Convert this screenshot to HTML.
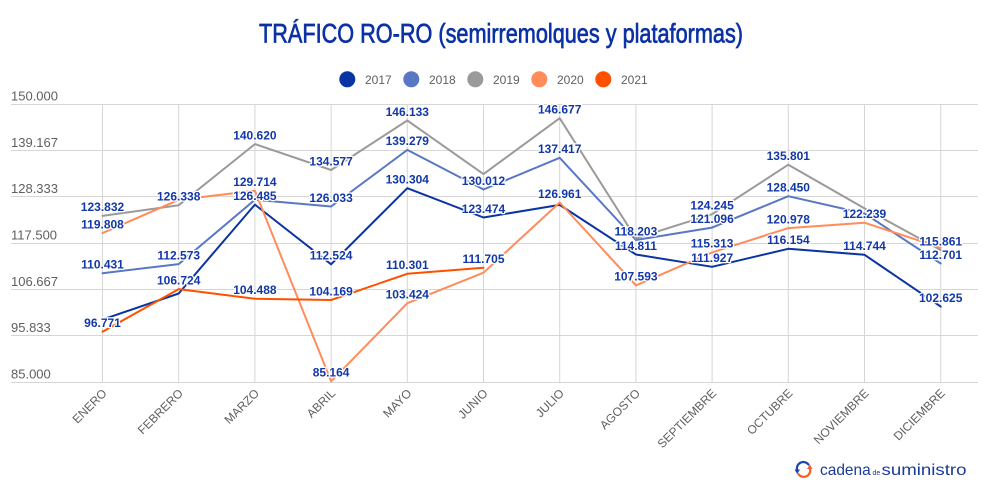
<!DOCTYPE html>
<html><head><meta charset="utf-8"><style>
html,body{margin:0;padding:0;background:#fff;}
svg{display:block;}
text{font-family:"Liberation Sans",sans-serif;}
.yl{font-size:13px;fill:#5f5f5f;}
.xl{font-size:12px;fill:#5f5f5f;}
.lg{font-size:12px;fill:#5f5f5f;}
.dl{font-size:12px;font-weight:bold;fill:#1238a8;paint-order:stroke;stroke:#fff;stroke-width:2.5px;stroke-linejoin:round;text-anchor:middle;}
.ln{fill:none;stroke-width:2;stroke-linejoin:round;stroke-linecap:round;}
</style></head><body>
<svg width="1000" height="500" viewBox="0 0 1000 500" xmlns="http://www.w3.org/2000/svg">
<rect width="1000" height="500" fill="#fff"/>
<text x="259" y="42.7" font-size="27" fill="#0b31a5" stroke="#0b31a5" stroke-width="0.7" textLength="484" lengthAdjust="spacingAndGlyphs">TRÁFICO RO-RO (semirremolques y plataformas)</text>

<!-- legend -->
<circle cx="347.3" cy="79.3" r="8" fill="#0a33a3"/><text class="lg" x="365" y="83.8">2017</text>
<circle cx="411.3" cy="79.3" r="8" fill="#5878c4"/><text class="lg" x="429" y="83.8">2018</text>
<circle cx="475.3" cy="79.3" r="8" fill="#9a9a9a"/><text class="lg" x="493" y="83.8">2019</text>
<circle cx="539.3" cy="79.3" r="8" fill="#ff8c5a"/><text class="lg" x="557" y="83.8">2020</text>
<circle cx="603.3" cy="79.3" r="8" fill="#ff5000"/><text class="lg" x="621" y="83.8">2021</text>

<!-- grid -->
<g stroke="#d6d6d6" stroke-width="1">
<line x1="11" x2="978" y1="104.5" y2="104.5"/>
<line x1="11" x2="978" y1="150.5" y2="150.5"/>
<line x1="11" x2="978" y1="196.5" y2="196.5"/>
<line x1="11" x2="978" y1="243.5" y2="243.5"/>
<line x1="11" x2="978" y1="289.5" y2="289.5"/>
<line x1="11" x2="978" y1="335.5" y2="335.5"/>
<line x1="11" x2="978" y1="382.5" y2="382.5"/>
<line x1="102.5" x2="102.5" y1="104" y2="382"/>
<line x1="178.7" x2="178.7" y1="104" y2="382"/>
<line x1="254.9" x2="254.9" y1="104" y2="382"/>
<line x1="331.1" x2="331.1" y1="104" y2="382"/>
<line x1="407.3" x2="407.3" y1="104" y2="382"/>
<line x1="483.5" x2="483.5" y1="104" y2="382"/>
<line x1="559.7" x2="559.7" y1="104" y2="382"/>
<line x1="635.9" x2="635.9" y1="104" y2="382"/>
<line x1="712.1" x2="712.1" y1="104" y2="382"/>
<line x1="788.3" x2="788.3" y1="104" y2="382"/>
<line x1="864.5" x2="864.5" y1="104" y2="382"/>
<line x1="940.7" x2="940.7" y1="104" y2="382"/>
</g>

<!-- y labels -->
<text class="yl" x="11" y="100.6">150.000</text>
<text class="yl" x="11" y="146.9">139.167</text>
<text class="yl" x="11" y="193.2">128.333</text>
<text class="yl" x="11" y="239.5">117.500</text>
<text class="yl" x="11" y="285.8">106.667</text>
<text class="yl" x="11" y="332.2">95.833</text>
<text class="yl" x="11" y="378.5">85.000</text>

<!-- x labels -->
<g class="xl" text-anchor="end">
<text transform="translate(107.5,394) rotate(-45)">ENERO</text>
<text transform="translate(183.7,394) rotate(-45)">FEBRERO</text>
<text transform="translate(259.9,394) rotate(-45)">MARZO</text>
<text transform="translate(336.1,394) rotate(-45)">ABRIL</text>
<text transform="translate(412.3,394) rotate(-45)">MAYO</text>
<text transform="translate(488.5,394) rotate(-45)">JUNIO</text>
<text transform="translate(564.7,394) rotate(-45)">JULIO</text>
<text transform="translate(640.9,394) rotate(-45)">AGOSTO</text>
<text transform="translate(717.1,394) rotate(-45)">SEPTIEMBRE</text>
<text transform="translate(793.3,394) rotate(-45)">OCTUBRE</text>
<text transform="translate(869.5,394) rotate(-45)">NOVIEMBRE</text>
<text transform="translate(945.7,394) rotate(-45)">DICIEMBRE</text>
</g>

<!-- series -->
<polyline class="ln" stroke="#0a33a3" points="102.5,319.6 178.7,293.5 254.9,204.6 331.1,264.3 407.3,188.2 483.5,217.5 559.7,204.9 635.9,254.5 712.1,266.8 788.3,248.8 864.5,254.8 940.7,306.6"/>
<polyline class="ln" stroke="#5878c4" points="102.5,273.2 178.7,264.1 254.9,199.8 331.1,206.5 407.3,149.9 483.5,189.5 559.7,157.8 635.9,240.0 712.1,227.6 788.3,196.2 864.5,213.5 940.7,263.5"/>
<polyline class="ln" stroke="#9a9a9a" points="102.5,215.9 178.7,205.2 254.9,144.1 331.1,170.0 407.3,120.5 483.5,174.1 559.7,118.2 635.9,238.3 712.1,214.2 788.3,164.7 864.5,208.4 940.7,250.0"/>
<polyline class="ln" stroke="#ff8c5a" points="102.5,233.1 178.7,199.8 254.9,190.8 331.1,381.3 407.3,303.2 483.5,272.7 559.7,202.5 635.9,285.4 712.1,252.4 788.3,228.1 864.5,222.7 940.7,247.7"/>
<polyline class="ln" stroke="#ff5000" points="102.5,331.7 178.7,289.1 254.9,298.7 331.1,300.0 407.3,273.8 483.5,267.8"/>

<!-- data labels -->
<text class="dl" x="102.5" y="211.2">123.832</text>
<text class="dl" x="102.5" y="228.4">119.808</text>
<text class="dl" x="102.5" y="268.5">110.431</text>
<text class="dl" x="102.5" y="327.0">96.771</text>

<text class="dl" x="178.7" y="200.5">126.338</text>
<text class="dl" x="178.7" y="259.4">112.573</text>
<text class="dl" x="178.7" y="284.4">106.724</text>

<text class="dl" x="254.9" y="139.4">140.620</text>
<text class="dl" x="254.9" y="186.1">129.714</text>
<text class="dl" x="254.9" y="199.9">126.485</text>
<text class="dl" x="254.9" y="294.0">104.488</text>

<text class="dl" x="331.1" y="165.3">134.577</text>
<text class="dl" x="331.1" y="201.8">126.033</text>
<text class="dl" x="331.1" y="259.6">112.524</text>
<text class="dl" x="331.1" y="295.3">104.169</text>
<text class="dl" x="331.1" y="376.6">85.164</text>

<text class="dl" x="407.3" y="115.8">146.133</text>
<text class="dl" x="407.3" y="145.2">139.279</text>
<text class="dl" x="407.3" y="183.5">130.304</text>
<text class="dl" x="407.3" y="269.1">110.301</text>
<text class="dl" x="407.3" y="298.5">103.424</text>

<text class="dl" x="483.5" y="184.8">130.012</text>
<text class="dl" x="483.5" y="212.8">123.474</text>
<text class="dl" x="483.5" y="263.1">111.705</text>

<text class="dl" x="559.7" y="113.5">146.677</text>
<text class="dl" x="559.7" y="153.1">137.417</text>
<text class="dl" x="559.7" y="197.8">126.961</text>

<text class="dl" x="635.9" y="235.3">118.203</text>
<text class="dl" x="635.9" y="249.8">114.811</text>
<text class="dl" x="635.9" y="280.7">107.593</text>

<text class="dl" x="712.1" y="209.5">124.245</text>
<text class="dl" x="712.1" y="222.9">121.096</text>
<text class="dl" x="712.1" y="247.7">115.313</text>
<text class="dl" x="712.1" y="262.1">111.927</text>

<text class="dl" x="788.3" y="160.0">135.801</text>
<text class="dl" x="788.3" y="191.5">128.450</text>
<text class="dl" x="788.3" y="223.4">120.978</text>
<text class="dl" x="788.3" y="244.1">116.154</text>

<text class="dl" x="864.5" y="218.0">122.239</text>
<text class="dl" x="864.5" y="250.1">114.744</text>

<text class="dl" x="940.7" y="245.3">115.861</text>
<text class="dl" x="940.7" y="258.8">112.701</text>
<text class="dl" x="940.7" y="301.9">102.625</text>

<!-- logo -->
<g fill="none" stroke-width="2.2" stroke-linecap="round">
<path d="M808.5,464.5 A6.5,6.5 0 0 0 797.2,470.5" stroke="#1a45b8"/>
<path d="M798.5,474.2 A6.5,6.5 0 0 0 809.8,468" stroke="#ff5a1f"/>
</g>
<polygon points="794.5,469.5 800,469.5 797.2,474" fill="#1a45b8"/>
<polygon points="807,469 812.5,469 809.8,464.5" fill="#ff5a1f"/>
<text x="820" y="475" font-size="16" fill="#1a3b9c" textLength="50.7" lengthAdjust="spacingAndGlyphs">cadena</text>
<text x="872.5" y="475" font-size="7" fill="#1a3b9c">de</text>
<text x="881.5" y="475" font-size="16" fill="#1a3b9c" textLength="85" lengthAdjust="spacingAndGlyphs">suministro</text>
</svg>
</body></html>
